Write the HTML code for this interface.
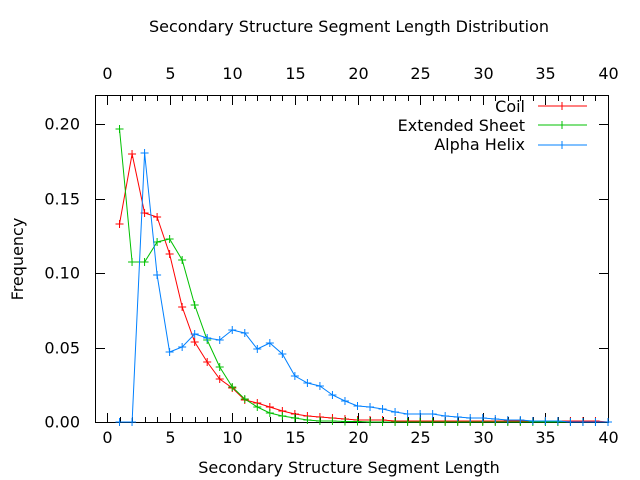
<!DOCTYPE html>
<html><head><style>body{margin:0;background:#fff}svg{display:block}text{font-family:"DejaVu Sans","Liberation Sans",sans-serif;font-size:16px;fill:#000}</style></head>
<body>
<svg id="s" width="640" height="480" xmlns="http://www.w3.org/2000/svg">
<rect x="95.5" y="95.5" width="513" height="327" fill="none" stroke="#000"/>
<g id="ax" stroke="#000" stroke-width="1"></g>
<text x="349" y="32" text-anchor="middle">Secondary Structure Segment Length Distribution</text>
<text x="349" y="473" text-anchor="middle">Secondary Structure Segment Length</text>
<text transform="translate(23,259) rotate(-90)" text-anchor="middle">Frequency</text>
<g id="lab"></g>
<text x="525" y="112" text-anchor="end">Coil</text>
<text x="525" y="131" text-anchor="end">Extended Sheet</text>
<text x="525" y="150" text-anchor="end">Alpha Helix</text>
<g id="ser"></g>
</svg>
<script>
var NS="http://www.w3.org/2000/svg",ax=document.getElementById('ax'),lab=document.getElementById('lab'),ser=document.getElementById('ser');
function el(p,t,a,txt){var e=document.createElementNS(NS,t);for(var k in a)e.setAttribute(k,a[k]);if(txt!=null)e.textContent=txt;p.appendChild(e);return e;}
function X(v){return 107+12.525*v;}
for(var i=0;i<=40;i++){var x=Math.round(X(i))+0.5,l=(i%5==0)?9:5;
el(ax,'line',{x1:x,x2:x,y1:422,y2:422-l});el(ax,'line',{x1:x,x2:x,y1:96,y2:96+l});
if(i%5==0){el(lab,'text',{x:x,y:443,'text-anchor':'middle'},i);el(lab,'text',{x:x,y:79,'text-anchor':'middle'},i);}}
for(var j=0;j<=4;j++){var y=Math.round(422-j*74.5)+0.5;
el(ax,'line',{x1:96,x2:105,y1:y,y2:y});el(ax,'line',{x1:608,x2:599,y1:y,y2:y});
el(lab,'text',{x:80,y:y+5,'text-anchor':'end'},(j*0.05).toFixed(2));}
var red=[224,154,213,217,254,307,342,362,379,388,400,403,407,411,414,416,417,418,419,420,420,420,421,421,421,421,421,421,421,421,421,421,421,421,421,421,421,421,421,422];
var grn=[129,262,262,242,239,260,305,340,367,387,399,407,413,416,418,420,421,421,421.5,421.5,422,422,422,422,422,422,422,422,422,422,422,422,422,422,422,422,422,422,422,422];
var blu=[422,422,153,275,352,347,334,338,340,330,333,349,343,354,376,383,386,395,401,406,407,409,412,414,414,414,416,417,418,418,419,420,420,421,421,421,422,422,422,422];
function plot(d,c,ly){var p='';d.forEach(function(y,i){p+=(i?'L':'M')+X(i+1).toFixed(1)+','+y+' ';});
el(ser,'path',{d:p,fill:'none',stroke:c,'stroke-width':1});
d.forEach(function(y,i){var x=X(i+1);el(ser,'path',{d:'M'+(x-4)+','+y+'h8M'+x+','+(y-4)+'v8',stroke:c,'stroke-width':1});});
el(ser,'path',{d:'M538,'+ly+'H587M562,'+(ly-4)+'v8',stroke:c,'stroke-width':1});}
plot(red,'#ff0000',106);plot(grn,'#00c000',125);plot(blu,'#0080ff',145);
</script>
</body></html>
